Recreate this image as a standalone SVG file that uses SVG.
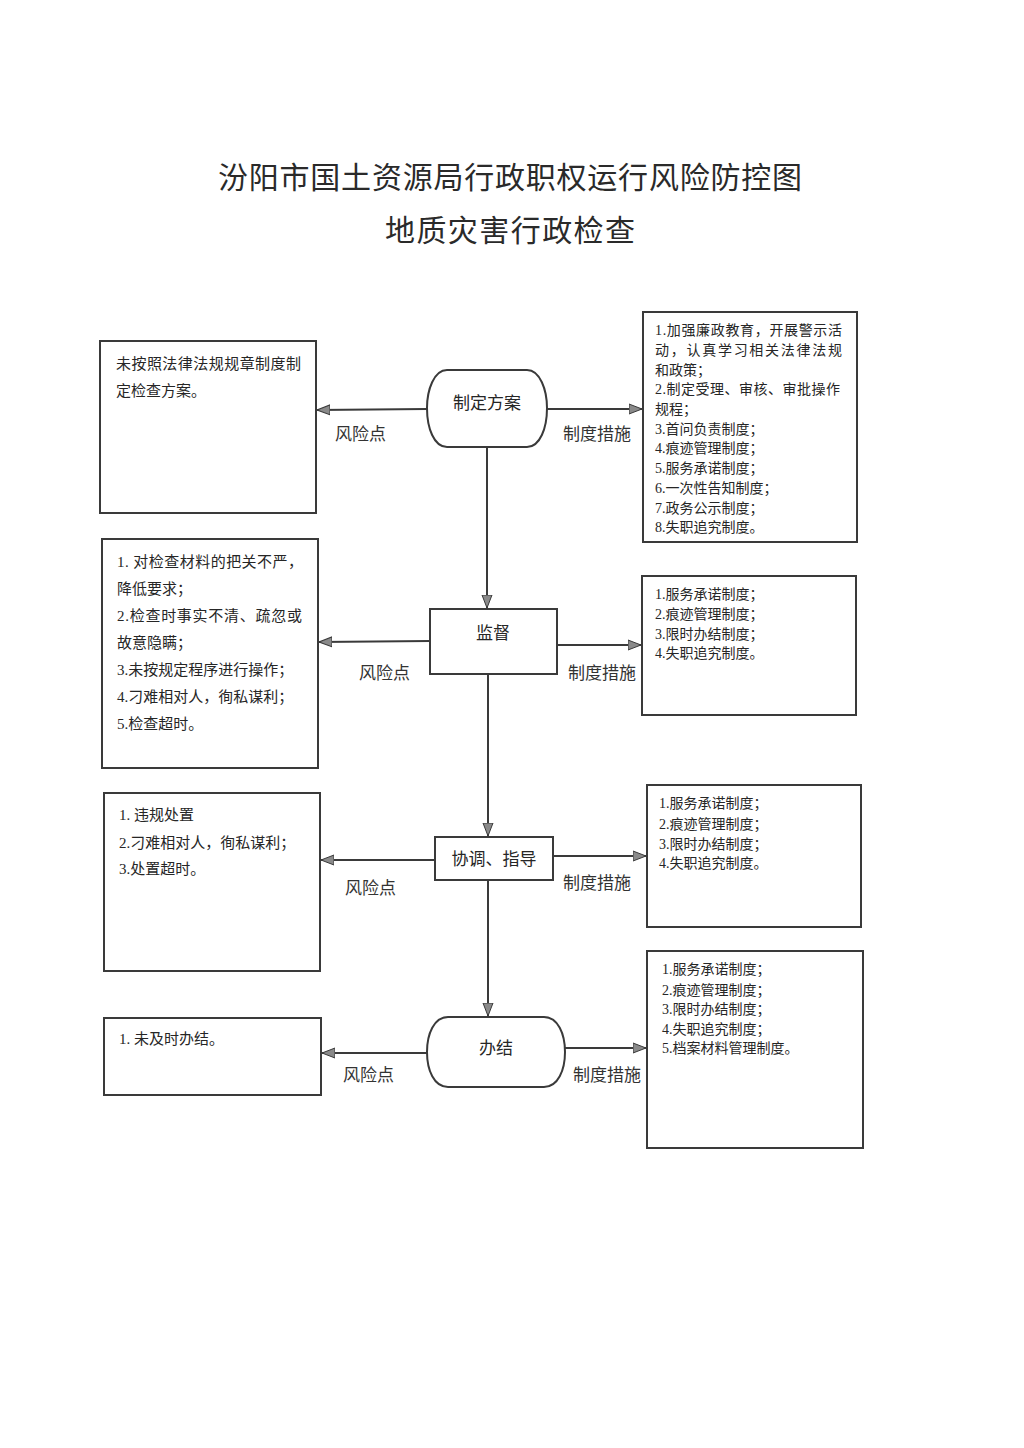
<svg xmlns="http://www.w3.org/2000/svg" width="1024" height="1448" viewBox="0 0 1024 1448">
<style>
.bg{fill:#ffffff}
.box{fill:#ffffff;stroke:#3a3a3a;stroke-width:2}
.node{fill:#ffffff;stroke:#3a3a3a;stroke-width:2}
.conn{fill:none;stroke:#3a3a3a;stroke-width:2}
text{font-family:"Liberation Serif","Noto Sans CJK SC",serif;fill:#262626}
.title{font-size:30px;text-anchor:middle;fill:#2a2a2a}
.nt{font-size:17px;text-anchor:middle}
.lbl{font-size:17px;fill:#333333}
.t15{font-size:15px}
.t14{font-size:14px}
</style>
<defs>
<marker id="arr" markerUnits="userSpaceOnUse" markerWidth="14" markerHeight="12" viewBox="0 0 14 12" refX="13" refY="6" orient="auto">
<path d="M0,1 L13,6 L0,11 Z" fill="#8a8a8a" stroke="#3a3a3a" stroke-width="1"/>
</marker>
</defs>
<rect class="bg" x="0" y="0" width="1024" height="1448"/>

<g id="title">
<text class="title" x="510" y="188" textLength="584" lengthAdjust="spacing">汾阳市国土资源局行政职权运行风险防控图</text>
<text class="title" x="510" y="241" textLength="250" lengthAdjust="spacing">地质灾害行政检查</text>
</g>

<g id="connectors">
<line class="conn" x1="427" y1="409" x2="317" y2="410" marker-end="url(#arr)"/>
<line class="conn" x1="547" y1="409" x2="642" y2="409" marker-end="url(#arr)"/>
<line class="conn" x1="487" y1="447" x2="487" y2="608" marker-end="url(#arr)"/>
<line class="conn" x1="430" y1="641" x2="319" y2="642" marker-end="url(#arr)"/>
<line class="conn" x1="557" y1="645" x2="641" y2="645" marker-end="url(#arr)"/>
<line class="conn" x1="488" y1="674" x2="488" y2="836" marker-end="url(#arr)"/>
<line class="conn" x1="435" y1="860" x2="321" y2="860" marker-end="url(#arr)"/>
<line class="conn" x1="553" y1="856" x2="646" y2="856" marker-end="url(#arr)"/>
<line class="conn" x1="488" y1="880" x2="488" y2="1016" marker-end="url(#arr)"/>
<line class="conn" x1="427" y1="1053" x2="322" y2="1053" marker-end="url(#arr)"/>
<line class="conn" x1="565" y1="1048" x2="646" y2="1048" marker-end="url(#arr)"/>
<text class="lbl" x="335" y="440">风险点</text>
<text class="lbl" x="563" y="440">制度措施</text>
<text class="lbl" x="359" y="679">风险点</text>
<text class="lbl" x="568" y="679">制度措施</text>
<text class="lbl" x="345" y="894">风险点</text>
<text class="lbl" x="563" y="889">制度措施</text>
<text class="lbl" x="343" y="1081">风险点</text>
<text class="lbl" x="573" y="1081">制度措施</text>
</g>

<g id="n_plan">
<path class="node" d="M447,370 H527 C540,370 547,390 547,408 C547,428 540,447 527,447 H447 C434,447 427,428 427,408 C427,390 434,370 447,370 Z"/>
<text class="nt" x="487" y="409">制定方案</text>
</g>

<g id="n_supervise">
<rect class="node" x="430" y="609" width="127" height="65"/>
<text class="nt" x="493" y="639">监督</text>
</g>

<g id="n_coord">
<rect class="node" x="435" y="837" width="118" height="43"/>
<text class="nt" x="494" y="865">协调、指导</text>
</g>

<g id="n_finish">
<path class="node" d="M448,1017 H544 C558,1017 565,1034 565,1052 C565,1070 558,1087 544,1087 H448 C434,1087 427,1070 427,1052 C427,1034 434,1017 448,1017 Z"/>
<text class="nt" x="496" y="1054">办结</text>
</g>

<g id="risk1">
<rect class="box" x="100" y="341" width="216" height="172"/>
<text class="t15" x="116" y="369" textLength="185" lengthAdjust="spacing">未按照法律法规规章制度制</text>
<text class="t15" x="116" y="396">定检查方案。</text>
</g>

<g id="measure1">
<rect class="box" x="643" y="312" width="214" height="230"/>
<text class="t14" x="655" y="335" textLength="187" lengthAdjust="spacing">1.加强廉政教育，开展警示活</text>
<text class="t14" x="655" y="355" textLength="187" lengthAdjust="spacing">动，认真学习相关法律法规</text>
<text class="t14" x="655" y="375">和政策；</text>
<text class="t14" x="655" y="394" textLength="185" lengthAdjust="spacing">2.制定受理、审核、审批操作</text>
<text class="t14" x="655" y="414">规程；</text>
<text class="t14" x="655" y="434">3.首问负责制度；</text>
<text class="t14" x="655" y="453">4.痕迹管理制度；</text>
<text class="t14" x="655" y="473">5.服务承诺制度；</text>
<text class="t14" x="655" y="493">6.一次性告知制度；</text>
<text class="t14" x="655" y="513">7.政务公示制度；</text>
<text class="t14" x="655" y="532">8.失职追究制度。</text>
</g>

<g id="risk2">
<rect class="box" x="102" y="539" width="216" height="229"/>
<text class="t15" x="117" y="567" textLength="186" lengthAdjust="spacing">1. 对检查材料的把关不严，</text>
<text class="t15" x="117" y="594">降低要求；</text>
<text class="t15" x="117" y="621" textLength="185" lengthAdjust="spacing">2.检查时事实不清、疏忽或</text>
<text class="t15" x="117" y="648">故意隐瞒；</text>
<text class="t15" x="117" y="675">3.未按规定程序进行操作；</text>
<text class="t15" x="117" y="702">4.刁难相对人，徇私谋利；</text>
<text class="t15" x="117" y="729">5.检查超时。</text>
</g>

<g id="measure2">
<rect class="box" x="642" y="576" width="214" height="139"/>
<text class="t14" x="655" y="599">1.服务承诺制度；</text>
<text class="t14" x="655" y="619">2.痕迹管理制度；</text>
<text class="t14" x="655" y="639">3.限时办结制度；</text>
<text class="t14" x="655" y="658">4.失职追究制度。</text>
</g>

<g id="risk3">
<rect class="box" x="104" y="793" width="216" height="178"/>
<text class="t15" x="119" y="820">1. 违规处置</text>
<text class="t15" x="119" y="848">2.刁难相对人，徇私谋利；</text>
<text class="t15" x="119" y="874">3.处置超时。</text>
</g>

<g id="measure3">
<rect class="box" x="647" y="785" width="214" height="142"/>
<text class="t14" x="659" y="808">1.服务承诺制度；</text>
<text class="t14" x="659" y="829">2.痕迹管理制度；</text>
<text class="t14" x="659" y="849">3.限时办结制度；</text>
<text class="t14" x="659" y="868">4.失职追究制度。</text>
</g>

<g id="risk4">
<rect class="box" x="104" y="1018" width="217" height="77"/>
<text class="t15" x="119" y="1044">1. 未及时办结。</text>
</g>

<g id="measure4">
<rect class="box" x="647" y="951" width="216" height="197"/>
<text class="t14" x="662" y="974">1.服务承诺制度；</text>
<text class="t14" x="662" y="995">2.痕迹管理制度；</text>
<text class="t14" x="662" y="1014">3.限时办结制度；</text>
<text class="t14" x="662" y="1034">4.失职追究制度；</text>
<text class="t14" x="662" y="1053">5.档案材料管理制度。</text>
</g>
</svg>
